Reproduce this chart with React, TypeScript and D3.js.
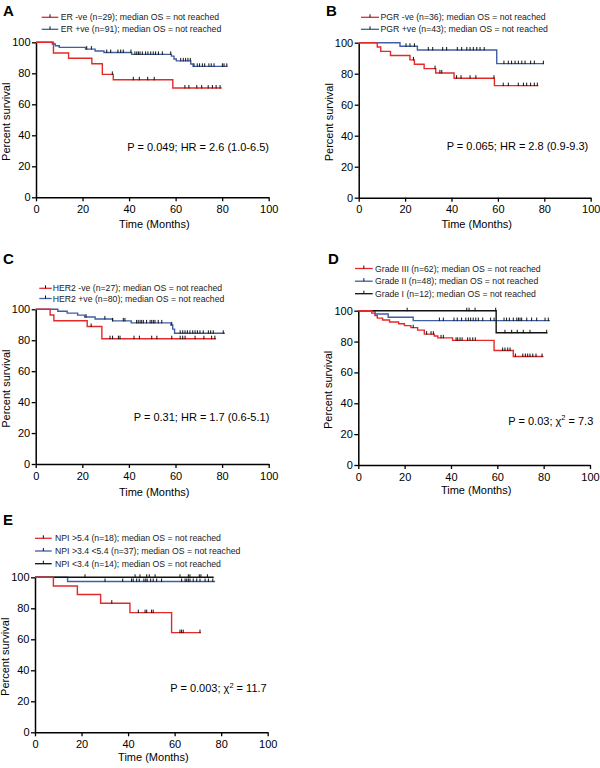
import React, { useEffect, useRef } from "react";
import * as d3 from "d3";

// ---------------- DATA ----------------
const RED = "#e32a2b";
const BLUE = "#3f5fa5";
const BLACK = "#111111";

const xTicks = [0, 20, 40, 60, 80, 100];
const yTicks = [0, 20, 40, 60, 80, 100];

// Panel A
const erNegSteps: [number, number][] = [[7.5, 93.1], [14, 89.7], [24, 86.2], [28.5, 79.3], [33.2, 75.8], [58.8, 70.5]];
const erNegEnd = 79.8;
const erNegCensors = [32.8, 41.8, 44.4, 48.0, 50.8, 64.0, 65.7, 69.1, 71.2, 74.0, 75.8, 77.4, 79.1];
const erPosSteps: [number, number][] = [[7.0, 98.9], [8.3, 97.8], [10, 96.7], [21.3, 95.6], [25.4, 94.4], [29.2, 93.4], [41.1, 92.2], [58.2, 91.1], [59.3, 89.2], [60.3, 88.0], [66.5, 86.0], [67.5, 84.5]];
const erPosEnd = 82.3;
const erPosCensors = [21.8, 23.8, 30.4, 32.1, 35.2, 36.4, 37.5, 40.8, 42.5, 43.3, 44.0, 44.7, 45.7, 47.1, 48.1, 49.3, 50.4, 51.4, 52.6, 54.3, 57.9, 62.2, 63.3, 64.3, 65.3, 66.3, 67.9, 69.3, 70.3, 71.5, 72.5, 74.3, 75.3, 76.5, 80.1, 80.8, 82.0];

// Panel B
const pgrNegSteps: [number, number][] = [[8.0, 97.2], [9.5, 94.4], [13.7, 91.7], [22.1, 88.9], [24, 86.1], [28.2, 83.3], [33.2, 80.5], [41.1, 77.1], [58.5, 72.3]];
const pgrNegEnd = 77.4;
const pgrNegCensors = [23.6, 32.9, 35.0, 35.8, 42.2, 44.1, 48.0, 50.5, 58.3, 62.3, 64.5, 68.8, 71.0, 72.4, 74.1, 75.7, 77.0];
const pgrPosSteps: [number, number][] = [[17.8, 97.7], [25.3, 95.3], [59.5, 86.5]];
const pgrPosEnd = 79.9;
const pgrPosCensors = [20.4, 22.1, 24.0, 30.0, 31.9, 36.2, 37.9, 42.5, 44.4, 46.6, 48.0, 49.4, 50.9, 52.3, 54.1, 62.6, 64.5, 65.9, 67.4, 68.8, 70.3, 71.7, 74.1, 75.7, 79.6];

// Panel C
const her2NegSteps: [number, number][] = [[6.2, 96.3], [7.8, 92.6], [22.1, 88.9], [28.4, 81.0]];
const her2NegEnd = 77.4;
const her2NegCensors = [23.8, 31.9, 33.0, 35.5, 36.2, 42.2, 44.5, 49.8, 52.0, 58.4, 62.0, 63.1, 64.1, 68.4, 72.2, 75.5, 76.9];
const her2PosSteps: [number, number][] = [[9.5, 98.75], [13.5, 97.5], [18, 96.25], [21, 95.0], [25.5, 93.75], [33, 92.5], [41, 91.2], [58, 89.9], [58.8, 87.2], [59.6, 84.5]];
const her2PosEnd = 81.2;
const her2PosCensors = [21.6, 29.7, 33.0, 37.6, 38.3, 43.3, 44.0, 44.8, 45.5, 46.2, 47.6, 49.1, 49.8, 50.5, 51.2, 52.6, 54.1, 58.4, 62.0, 63.1, 64.1, 65.1, 66.2, 67.4, 68.4, 69.4, 70.5, 71.9, 74.1, 75.1, 76.2, 80.5];

// Panel D
const g3Steps: [number, number][] = [[5.8, 98.4], [7.2, 96.8], [8.2, 95.2], [10.5, 94.0], [13.5, 92.7], [17.4, 91.5], [19.9, 90.3], [22.7, 89.0], [25.6, 87.4], [28.5, 84.8], [32.8, 83.6], [34.3, 82.4], [40.7, 80.8], [58.6, 74.2], [66.9, 70.3]];
const g3End = 79.9;
const g3Censors = [23.7, 29.5, 31.4, 32.4, 35.7, 36.7, 42.2, 42.9, 43.9, 44.8, 47.2, 48.2, 49.4, 50.5, 62.3, 63.3, 64.5, 65.5, 67.8, 71.0, 72.1, 73.1, 74.1, 75.3, 76.7, 79.3];
const g2Steps: [number, number][] = [[7.2, 97.9], [12.9, 95.8], [23.7, 93.6]];
const g2End = 82.7;
const g2Censors = [35.0, 36.7, 41.3, 42.7, 44.6, 46.4, 47.5, 48.5, 49.6, 50.7, 51.8, 53.7, 57.1, 58.6, 62.9, 64.0, 65.2, 66.9, 68.4, 69.1, 69.8, 70.5, 72.7, 74.8, 77.0, 80.6, 82.0];
const g1Steps: [number, number][] = [[59.5, 85.7]];
const g1End = 81.6;
const g1Censors = [21.1, 46.8, 47.8, 50.4, 59.3, 63.3, 66.2, 68.6, 71.2, 74.1, 81.3];

// Panel E
const npiHighSteps: [number, number][] = [[7.9, 94.4], [18.2, 88.9], [28.2, 83.3], [40.8, 77.2], [58.7, 64.3]];
const npiHighEnd = 71.3;
const npiHighCensors = [33.0, 44.4, 47.3, 48.0, 50.1, 50.8, 62.3, 63.0, 63.7, 70.9];
const npiMidSteps: [number, number][] = [[14.0, 97.3]];
const npiMidEnd = 77.4;
const npiMidCensors = [30.1, 37.7, 41.5, 42.2, 43.7, 44.8, 46.8, 47.6, 48.2, 49.7, 50.8, 52.3, 54.4, 63.0, 64.5, 65.2, 65.9, 66.6, 68.0, 69.5, 70.9, 73.1, 74.5, 76.4];
const npiLowSteps: [number, number][] = [];
const npiLowEnd = 76.8;
const npiLowCensors = [21.5, 43.0, 45.1, 48.0, 49.1, 51.6, 62.3, 65.9, 66.6, 70.6, 71.3, 74.1];

const legendA = ["ER -ve (n=29); median OS = not reached", "ER +ve (n=91); median OS = not reached"];
const legendB = ["PGR -ve (n=36); median OS = not reached", "PGR +ve (n=43); median OS = not reached"];
const legendC = ["HER2 -ve (n=27); median OS = not reached", "HER2 +ve (n=80); median OS = not reached"];
const legendD = ["Grade III (n=62); median OS = not reached", "Grade II (n=48); median OS = not reached", "Grade I (n=12); median OS = not reached"];
const legendE = ["NPI >5.4 (n=18); median OS = not reached", "NPI >3.4 <5.4 (n=37); median OS = not reached", "NPI <3.4 (n=14); median OS = not reached"];

// ---------------- TYPES ----------------
type Series = { label: string; color: string; steps: [number, number][]; end: number; censors: number[] };
type PanelCfg = {
  letter: string;
  letterX: number;
  letterY: number;
  x0: number;
  x1: number;
  yTop: number;
  yBot: number;
  series: Series[]; // legend order
  drawOrder: number[];
  legX0: number;
  legX1: number;
  legTx: number;
  legYs: number[];
  stat: string;
  chi?: string;
  statX: number;
  statY: number;
  xTitleDy: number;
};

const FONT = "'Liberation Sans', Arial, Helvetica, sans-serif";

const panels: PanelCfg[] = [
  {
    letter: "A", letterX: 3, letterY: 15.5, x0: 36, x1: 268.7, yTop: 42.3, yBot: 197.3,
    series: [
      { label: legendA[0], color: RED, steps: erNegSteps, end: erNegEnd, censors: erNegCensors },
      { label: legendA[1], color: BLUE, steps: erPosSteps, end: erPosEnd, censors: erPosCensors },
    ],
    drawOrder: [1, 0],
    legX0: 41.7, legX1: 58.3, legTx: 60.7, legYs: [17.3, 29.3],
    stat: "P = 0.049; HR = 2.6 (1.0-6.5)", statX: 269, statY: 150.7, xTitleDy: 30.5,
  },
  {
    letter: "B", letterX: 326, letterY: 15.5, x0: 358.7, x1: 590.7, yTop: 42.7, yBot: 197.7,
    series: [
      { label: legendB[0], color: RED, steps: pgrNegSteps, end: pgrNegEnd, censors: pgrNegCensors },
      { label: legendB[1], color: BLUE, steps: pgrPosSteps, end: pgrPosEnd, censors: pgrPosCensors },
    ],
    drawOrder: [1, 0],
    legX0: 361, legX1: 379, legTx: 380.5, legYs: [17.3, 29.3],
    stat: "P = 0.065; HR = 2.8 (0.9-9.3)", statX: 588.3, statY: 149.5, xTitleDy: 30,
  },
  {
    letter: "C", letterX: 3, letterY: 264, x0: 35.7, x1: 268.7, yTop: 309.3, yBot: 464,
    series: [
      { label: legendC[0], color: RED, steps: her2NegSteps, end: her2NegEnd, censors: her2NegCensors },
      { label: legendC[1], color: BLUE, steps: her2PosSteps, end: her2PosEnd, censors: her2PosCensors },
    ],
    drawOrder: [1, 0],
    legX0: 39.3, legX1: 51.7, legTx: 52.7, legYs: [288.3, 298.5],
    stat: "P = 0.31; HR = 1.7 (0.6-5.1)", statX: 269.3, statY: 420.5, xTitleDy: 31.5,
  },
  {
    letter: "D", letterX: 328, letterY: 263.5, x0: 358.3, x1: 590, yTop: 310.7, yBot: 465,
    series: [
      { label: legendD[0], color: RED, steps: g3Steps, end: g3End, censors: g3Censors },
      { label: legendD[1], color: BLUE, steps: g2Steps, end: g2End, censors: g2Censors },
      { label: legendD[2], color: BLACK, steps: g1Steps, end: g1End, censors: g1Censors },
    ],
    drawOrder: [1, 2, 0],
    legX0: 355, legX1: 372.7, legTx: 375, legYs: [268.5, 281.2, 293.7],
    stat: "P = 0.03; ", chi: "= 7.3", statX: 593.3, statY: 424.5, xTitleDy: 28.5,
  },
  {
    letter: "E", letterX: 3, letterY: 524.5, x0: 35, x1: 267.7, yTop: 577.3, yBot: 732.3,
    series: [
      { label: legendE[0], color: RED, steps: npiHighSteps, end: npiHighEnd, censors: npiHighCensors },
      { label: legendE[1], color: BLUE, steps: npiMidSteps, end: npiMidEnd, censors: npiMidCensors },
      { label: legendE[2], color: BLACK, steps: npiLowSteps, end: npiLowEnd, censors: npiLowCensors },
    ],
    drawOrder: [1, 2, 0],
    legX0: 35, legX1: 51.7, legTx: 55, legYs: [538.3, 551, 563.7],
    stat: "P = 0.003; ", chi: "= 11.7", statX: 266.7, statY: 692, xTitleDy: 28.5,
  },
];

function survAt(steps: [number, number][], t: number): number {
  let s = 100;
  for (const [st, v] of steps) if (st <= t) s = v;
  return s;
}

function Panel({ cfg }: { cfg: PanelCfg }) {
  const gx = useRef<SVGGElement>(null);
  const gy = useRef<SVGGElement>(null);
  const x = d3.scaleLinear().domain([0, 100]).range([cfg.x0, cfg.x1]);
  const y = d3.scaleLinear().domain([0, 100]).range([cfg.yBot, cfg.yTop]);

  useEffect(() => {
    const ax = d3.axisBottom(x).tickValues(xTicks).tickSize(4).tickSizeOuter(0).tickPadding(4);
    const ay = d3.axisLeft(y).tickValues(yTicks).tickSize(4).tickSizeOuter(0).tickPadding(1.5);
    const sx = d3.select(gx.current!).call(ax as any);
    const sy = d3.select(gy.current!).call(ay as any);
    [sx, sy].forEach((s) => {
      s.selectAll("path.domain").attr("stroke", "#000").attr("stroke-width", 1.5);
      s.selectAll(".tick line").attr("stroke", "#000").attr("stroke-width", 1.3);
      s.selectAll(".tick text").attr("fill", "#000").style("font-size", "11px").style("font-family", FONT);
    });
  });

  const line = d3
    .line<[number, number]>()
    .x((d) => x(d[0]))
    .y((d) => y(d[1]))
    .curve(d3.curveStepAfter);

  const title = "Time (Months)";
  const cxPlot = (cfg.x0 + cfg.x1) / 2;
  const cyPlot = (cfg.yTop + cfg.yBot) / 2;

  return (
    <g>
      <text x={cfg.letterX} y={cfg.letterY} fontSize={15} fontWeight={700} fontFamily={FONT} fill="#000">
        {cfg.letter}
      </text>
      {cfg.series.map((s, i) => {
        const ly = cfg.legYs[i];
        const mid = (cfg.legX0 + cfg.legX1) / 2;
        return (
          <g key={"leg" + i}>
            <line x1={cfg.legX0} x2={cfg.legX1} y1={ly} y2={ly} stroke={s.color} strokeWidth={1.3} />
            <line x1={mid} x2={mid} y1={ly - 3} y2={ly} stroke="#111" strokeWidth={1} />
            <text x={cfg.legTx} y={ly + 3} fontSize={8.7} fontFamily={FONT} fill="#222">
              {s.label}
            </text>
          </g>
        );
      })}
      <g ref={gx} transform={`translate(0,${cfg.yBot})`} />
      <g ref={gy} transform={`translate(${cfg.x0},0)`} />
      {cfg.drawOrder.map((idx) => {
        const s = cfg.series[idx];
        const last = s.steps.length ? s.steps[s.steps.length - 1][1] : 100;
        const pts: [number, number][] = [[0, 100], ...s.steps, [s.end, last]];
        return (
          <g key={"s" + idx}>
            <path d={line(pts) || ""} fill="none" stroke={s.color} strokeWidth={1.4} />
            {s.censors.map((c, j) => {
              const v = survAt(s.steps, c);
              return (
                <line key={j} x1={x(c)} x2={x(c)} y1={y(v) - 3} y2={y(v) + 0.5} stroke="#111" strokeWidth={1} />
              );
            })}
          </g>
        );
      })}
      <text
        transform={`translate(${cfg.x0 - 26},${cyPlot + 2}) rotate(-90)`}
        textAnchor="middle"
        fontSize={11}
        fontFamily={FONT}
        fill="#000"
      >
        Percent survival
      </text>
      <text x={cxPlot + 2} y={cfg.yBot + cfg.xTitleDy} textAnchor="middle" fontSize={11} fontFamily={FONT} fill="#000">
        {title}
      </text>
      <text x={cfg.statX} y={cfg.statY} textAnchor="end" fontSize={11} fontFamily={FONT} fill="#000">
        {cfg.stat}
        {cfg.chi ? (
          <>
            <tspan>χ</tspan>
            <tspan dy={-4.5} fontSize={7.5}>2</tspan>
            <tspan dy={4.5}>{" " + cfg.chi}</tspan>
          </>
        ) : null}
      </text>
    </g>
  );
}

export default function App() {
  return (
    <svg
      width={600}
      height={768}
      viewBox="0 0 600 768"
      style={{ position: "absolute", left: 0, top: 0, background: "#fff" }}
    >
      <rect x={0} y={0} width={600} height={768} fill="#fff" />
      {panels.map((p) => (
        <Panel key={p.letter} cfg={p} />
      ))}
    </svg>
  );
}
